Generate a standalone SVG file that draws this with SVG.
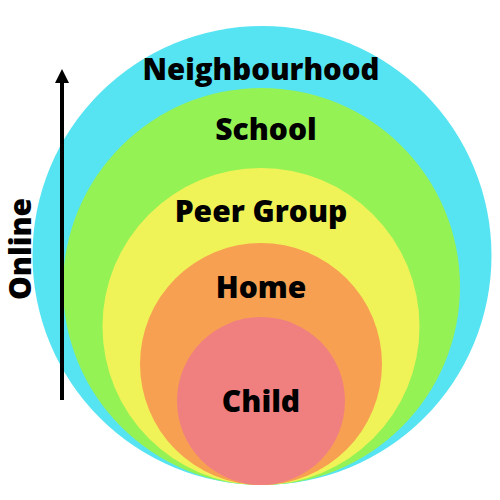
<svg xmlns="http://www.w3.org/2000/svg" width="500" height="500" viewBox="0 0 500 500">
<style>
.lbl{font-family:"Open Sans","Liberation Sans",sans-serif;font-weight:800;font-size:30px;fill:#000;text-anchor:middle}
</style>
<defs>
<marker id="ah" viewBox="0 0 10 10" refX="5" refY="5" markerWidth="4.5" markerHeight="3.5" orient="auto" markerUnits="strokeWidth">
<path d="M0,0 L10,5 L0,10 Z" fill="#000"/>
</marker>
</defs>
<rect width="500" height="500" fill="#fff"/>
<g id="neighbourhood"><circle cx="262" cy="255.5" r="229.5" fill="#56e3f2"/><text class="lbl" x="261" y="80" style="font-size:29.4px">Neighbourhood</text></g>
<g id="school"><circle cx="261.5" cy="286.5" r="198.5" fill="#95f255"/><text class="lbl" x="266" y="140">School</text></g>
<g id="peer"><circle cx="261" cy="326.5" r="158.5" fill="#f0f358"/><text class="lbl" x="261" y="222">Peer Group</text></g>
<g id="home"><circle cx="261" cy="364" r="121" fill="#f8a052"/><text class="lbl" x="261" y="298">Home</text></g>
<g id="child"><circle cx="261" cy="401" r="84" fill="#f08080"/><text class="lbl" x="261" y="412">Child</text></g>
<g id="connectors"><line x1="62" y1="400" x2="62" y2="76" stroke="#000" stroke-width="4" marker-end="url(#ah)"/></g>
<g id="online"><text class="lbl" transform="translate(31,249) rotate(-90)">Online</text></g>
</svg>
